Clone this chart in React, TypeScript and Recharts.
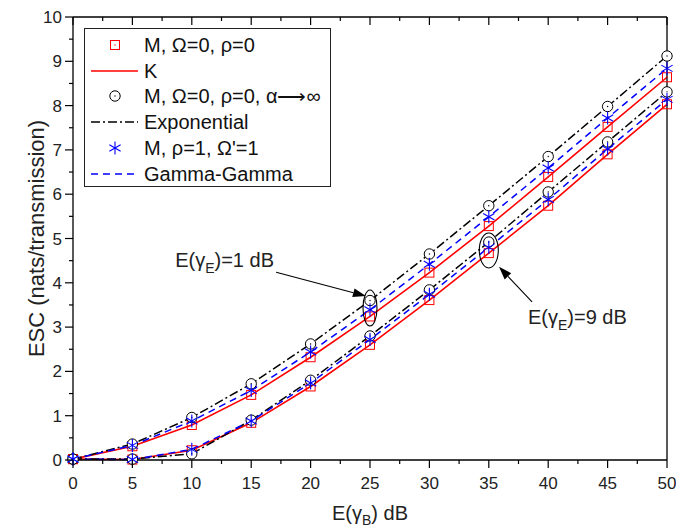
import React from 'react';
import { LineChart, Line, XAxis, YAxis, ReferenceDot, ReferenceLine } from 'recharts';

// E(gamma_B) in dB
const snrDb = [0, 5, 10, 15, 20, 25, 30, 35, 40, 45, 50];
// E(gamma_E) = 1 dB
const kE1 = [0.02, 0.31, 0.79, 1.47, 2.32, 3.24, 4.23, 5.28, 6.39, 7.52, 8.64];
const expE1 = [0.02, 0.36, 0.96, 1.72, 2.62, 3.6, 4.65, 5.74, 6.85, 7.98, 9.12];
const ggE1 = [0.02, 0.33, 0.88, 1.57, 2.44, 3.39, 4.42, 5.49, 6.59, 7.72, 8.84];
// E(gamma_E) = 9 dB
const kE9 = [0.02, 0.01, 0.22, 0.84, 1.66, 2.6, 3.61, 4.67, 5.74, 6.9, 8.03];
const expE9 = [0.02, 0.02, 0.14, 0.9, 1.8, 2.8, 3.84, 4.92, 6.05, 7.18, 8.31];
const ggE9 = [0.02, 0.01, 0.24, 0.88, 1.74, 2.72, 3.74, 4.8, 5.88, 7.02, 8.14];

const xTicks = [0, 2.5, 5, 7.5, 10, 12.5, 15, 17.5, 20, 22.5, 25, 27.5, 30, 32.5, 35, 37.5, 40, 42.5, 45, 47.5, 50];
const yTicks = [0, 0.5, 1, 1.5, 2, 2.5, 3, 3.5, 4, 4.5, 5, 5.5, 6, 6.5, 7, 7.5, 8, 8.5, 9, 9.5, 10];

const legendLabels = [
  'M, \u03A9=0, \u03C1=0',
  'K',
  'M, \u03A9=0, \u03C1=0, \u03B1\u27F6\u221E',
  'Exponential',
  'M, \u03C1=1, \u03A9\'=1',
  'Gamma-Gamma',
];

const data = snrDb.map((x, i) => ({
  x,
  kE1: kE1[i], expE1: expE1[i], ggE1: ggE1[i],
  kE9: kE9[i], expE9: expE9[i], ggE9: ggE9[i],
}));

const FONT = '"Liberation Sans", Arial, sans-serif';
const RED = '#ff0000';
const BLUE = '#0000ff';
const BLACK = '#000000';
const EXP_DASH = '9 3 2 3';
const GG_DASH = '7 5';
const GAMMA = '\u03B3';

const SquareMark = ({ cx, cy }: { cx: number; cy: number }) => (
  <g>
    <rect x={cx - 4.5} y={cy - 4.5} width={9} height={9} fill="none" stroke={RED} strokeWidth={1} />
    <circle cx={cx} cy={cy} r={0.7} fill={RED} />
  </g>
);
const CircleMark = ({ cx, cy }: { cx: number; cy: number }) => (
  <g>
    <circle cx={cx} cy={cy} r={5.2} fill="#fff" stroke={BLACK} strokeWidth={1} />
    <circle cx={cx} cy={cy} r={0.7} fill={BLACK} />
  </g>
);
const StarMark = ({ cx, cy }: { cx: number; cy: number }) => {
  const r = 6.5;
  const a = r * Math.cos(Math.PI / 6);
  const b = r * Math.sin(Math.PI / 6);
  return (
    <g stroke={BLUE} strokeWidth={1.1}>
      <line x1={cx} y1={cy - r} x2={cx} y2={cy + r} />
      <line x1={cx - a} y1={cy - b} x2={cx + a} y2={cy + b} />
      <line x1={cx - a} y1={cy + b} x2={cx + a} y2={cy - b} />
    </g>
  );
};

const squareDot = (p: any) => (p.cx == null ? <g key={p.key} /> : <g key={`sq-${p.dataKey}-${p.index}`}><SquareMark cx={p.cx} cy={p.cy} /></g>);
const circleDot = (p: any) => (p.cx == null ? <g key={p.key} /> : <g key={`ci-${p.dataKey}-${p.index}`}><CircleMark cx={p.cx} cy={p.cy} /></g>);
const starDot = (p: any) => (p.cx == null ? <g key={p.key} /> : <g key={`st-${p.dataKey}-${p.index}`}><StarMark cx={p.cx} cy={p.cy} /></g>);

const isMajorX = (v: number) => Math.abs(v % 5) < 1e-6;
const isMajorY = (v: number) => Math.abs(v % 1) < 1e-6;

const BottomTick = (p: any) => {
  const { x, y, payload } = p;
  const major = isMajorX(payload.value);
  return (
    <g>
      <line x1={x} x2={x} y1={y} y2={y + (major ? 8 : 4)} stroke={BLACK} strokeWidth={1.2} />
      {major && (
        <text x={x} y={y + 29} textAnchor="middle" fontSize={17} fontFamily={FONT} fill="#222">
          {payload.value}
        </text>
      )}
    </g>
  );
};
const TopTick = (p: any) => {
  const { x, y, payload } = p;
  const major = isMajorX(payload.value);
  return <line x1={x} x2={x} y1={y} y2={y + (major ? 8 : 4)} stroke={BLACK} strokeWidth={1.2} />;
};
const LeftTick = (p: any) => {
  const { x, y, payload } = p;
  const major = isMajorY(payload.value);
  return (
    <g>
      <line x1={x} x2={x - (major ? 8 : 4)} y1={y} y2={y} stroke={BLACK} strokeWidth={1.2} />
      {major && (
        <text x={x - 11} y={y + 6} textAnchor="end" fontSize={17} fontFamily={FONT} fill="#222">
          {payload.value}
        </text>
      )}
    </g>
  );
};
const RightTick = (p: any) => {
  const { x, y, payload } = p;
  const major = isMajorY(payload.value);
  return <line x1={x} x2={x - (major ? 8 : 4)} y1={y} y2={y} stroke={BLACK} strokeWidth={1.2} />;
};

const XTitle = (p: any) => {
  const vb = p.viewBox;
  return (
    <text x={vb.x + vb.width / 2} y={vb.y + 60} textAnchor="middle" fontSize={20} fontFamily={FONT} fill="#222">
      {'E(' + GAMMA}<tspan fontSize={14} dy={5}>B</tspan><tspan dy={-5}>{') dB'}</tspan>
    </text>
  );
};
const YTitle = (p: any) => {
  const vb = p.viewBox;
  const cx = 44;
  const cy = vb.y + vb.height / 2;
  return (
    <text x={cx} y={cy} transform={`rotate(-90 ${cx} ${cy})`} textAnchor="middle" fontSize={22} fontFamily={FONT} fill="#222">
      ESC (nats/transmission)
    </text>
  );
};

const Ellipse = (rx: number, ry: number) => (p: any) => (
  <ellipse cx={p.cx} cy={p.cy} rx={rx} ry={ry} fill="none" stroke={BLACK} strokeWidth={1.1} />
);
const Note = (main: string, tail: string) => (p: any) => (
  <text x={p.cx} y={p.cy} fontSize={20} fontFamily={FONT} fill="#222">
    {main}<tspan fontSize={14} dy={6}>E</tspan><tspan dy={-6}>{tail}</tspan>
  </text>
);
const Arrow = (p: any) => {
  const { x1, y1, x2, y2 } = p;
  const ang = Math.atan2(y2 - y1, x2 - x1);
  const L = 13;
  const W = 4.5;
  const bx = x2 - L * Math.cos(ang);
  const by = y2 - L * Math.sin(ang);
  const nx = -Math.sin(ang) * W;
  const ny = Math.cos(ang) * W;
  return (
    <g>
      <line x1={x1} y1={y1} x2={bx} y2={by} stroke={BLACK} strokeWidth={1.1} />
      <polygon points={`${x2},${y2} ${bx + nx},${by + ny} ${bx - nx},${by - ny}`} fill={BLACK} />
    </g>
  );
};

const legendIcon = (i: number) => {
  if (i === 0) return <SquareMark cx={30} cy={10} />;
  if (i === 1) return <line x1={6} x2={53} y1={10} y2={10} stroke={RED} strokeWidth={1.6} />;
  if (i === 2) return <CircleMark cx={30} cy={10} />;
  if (i === 3) return <line x1={6} x2={53} y1={10} y2={10} stroke={BLACK} strokeWidth={1.5} strokeDasharray={EXP_DASH} />;
  if (i === 4) return <StarMark cx={30} cy={10} />;
  return <line x1={6} x2={53} y1={10} y2={10} stroke={BLUE} strokeWidth={1.5} strokeDasharray={GG_DASH} />;
};

export default function App() {
  return (
    <div style={{ position: 'absolute', left: 0, top: 0, width: 676, height: 527, background: '#fff' }}>
      <LineChart width={676} height={527} data={data} margin={{ top: 17, right: 9, bottom: 0, left: 0 }}>
        <XAxis
          dataKey="x"
          type="number"
          domain={[0, 50]}
          ticks={xTicks}
          interval={0}
          height={67}
          tickSize={0}
          tickMargin={0}
          tickLine={false}
          tick={BottomTick}
          axisLine={{ stroke: BLACK, strokeWidth: 1.3 }}
          label={<XTitleLabel />}
        />
        <XAxis
          xAxisId="top"
          dataKey="x"
          type="number"
          orientation="top"
          mirror
          domain={[0, 50]}
          ticks={xTicks}
          interval={0}
          height={1}
          tickSize={0}
          tickMargin={0}
          tickLine={false}
          tick={TopTick}
          axisLine={{ stroke: BLACK, strokeWidth: 1.3 }}
        />
        <YAxis
          type="number"
          domain={[0, 10]}
          ticks={yTicks}
          interval={0}
          width={73}
          tickSize={0}
          tickMargin={0}
          tickLine={false}
          tick={LeftTick}
          axisLine={{ stroke: BLACK, strokeWidth: 1.3 }}
          label={<YTitleLabel />}
        />
        <YAxis
          yAxisId="right"
          type="number"
          orientation="right"
          mirror
          domain={[0, 10]}
          ticks={yTicks}
          interval={0}
          width={1}
          tickSize={0}
          tickMargin={0}
          tickLine={false}
          tick={RightTick}
          axisLine={{ stroke: BLACK, strokeWidth: 1.3 }}
        />
        <Line type="linear" dataKey="kE1" stroke={RED} strokeWidth={1.6} dot={squareDot} isAnimationActive={false} />
        <Line type="linear" dataKey="kE9" stroke={RED} strokeWidth={1.6} dot={squareDot} isAnimationActive={false} />
        <Line type="linear" dataKey="expE1" stroke={BLACK} strokeWidth={1.5} strokeDasharray={EXP_DASH} dot={circleDot} isAnimationActive={false} />
        <Line type="linear" dataKey="expE9" stroke={BLACK} strokeWidth={1.5} strokeDasharray={EXP_DASH} dot={circleDot} isAnimationActive={false} />
        <Line type="linear" dataKey="ggE1" stroke={BLUE} strokeWidth={1.5} strokeDasharray={GG_DASH} dot={starDot} isAnimationActive={false} />
        <Line type="linear" dataKey="ggE9" stroke={BLUE} strokeWidth={1.5} strokeDasharray={GG_DASH} dot={starDot} isAnimationActive={false} />
        <ReferenceDot x={25} y={3.43} r={1} shape={Ellipse(7, 18)} />
        <ReferenceDot x={35} y={4.73} r={1} shape={Ellipse(9.5, 17.5)} />
        <ReferenceLine segment={[{ x: 17.1, y: 4.24 }, { x: 24.66, y: 3.7 }]} shape={Arrow} />
        <ReferenceLine segment={[{ x: 38.64, y: 3.57 }, { x: 35.86, y: 4.36 }]} shape={Arrow} />
        <ReferenceDot x={8.6} y={4.36} r={1} shape={Note('E(' + GAMMA, ')=1 dB')} />
        <ReferenceDot x={38.3} y={3.07} r={1} shape={Note('E(' + GAMMA, ')=9 dB')} />
      </LineChart>
      <div
        style={{
          position: 'absolute', left: 84, top: 28, width: 245, height: 154,
          border: '1px solid #222', background: '#fff', fontFamily: FONT, fontSize: 20, color: '#111',
          paddingTop: 3, boxSizing: 'content-box',
        }}
      >
        {legendLabels.map((lab, i) => (
          <div key={lab} style={{ display: 'flex', alignItems: 'center', height: 25.8, whiteSpace: 'nowrap' }}>
            <svg width={59} height={20} style={{ flex: 'none' }}>{legendIcon(i)}</svg>
            <span style={{ lineHeight: '20px' }}>{lab}</span>
          </div>
        ))}
      </div>
    </div>
  );
}

function XTitleLabel(p: any) {
  return p.viewBox ? <XTitle viewBox={p.viewBox} /> : null;
}
function YTitleLabel(p: any) {
  return p.viewBox ? <YTitle viewBox={p.viewBox} /> : null;
}
